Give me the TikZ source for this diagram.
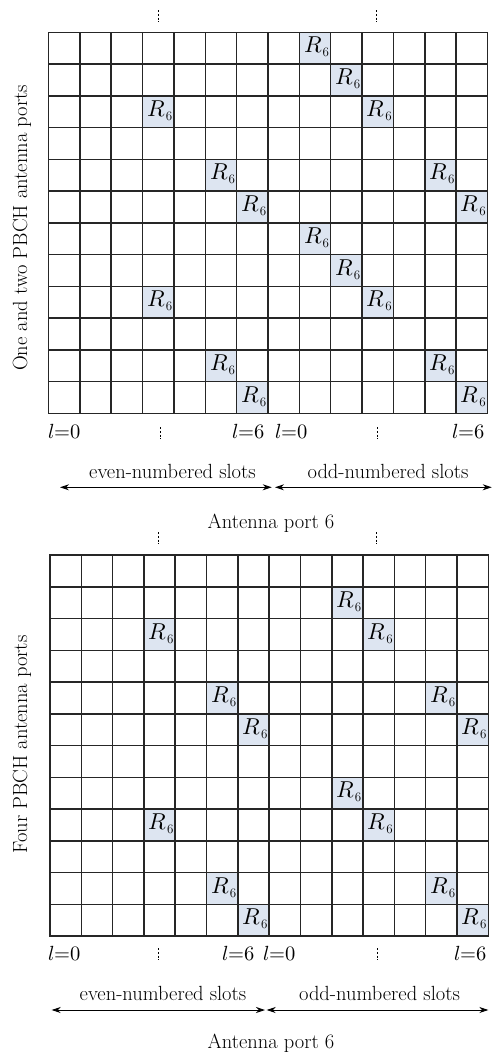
\documentclass[tikz,border=0pt]{standalone}
\usepackage{fontspec}
\usepackage{unicode-math}
\usetikzlibrary{arrows.meta}
\definecolor{rscell}{RGB}{221,229,241}
\tikzset{
  gridline/.style={line width=1.5pt, draw=black!85, line cap=rect},
  rcell/.style={fill=rscell, draw=none, inner sep=0pt},
  rtext/.style={inner sep=0pt, font=\fontsize{23}{24}\selectfont},
  lbl/.style={inner sep=0pt, font=\fontsize{20.5}{22}\selectfont},
  sidelbl/.style={inner sep=0pt, rotate=90, font=\fontsize{20.5}{22}\selectfont},
  span/.style={line width=0.9pt, {Stealth[length=9pt,width=6pt]}-{Stealth[length=9pt,width=6pt]}},
  vdot/.style={line width=1pt, dash pattern=on 2pt off 1.8pt},
}
% R6 symbol with a small, lowered index
\newcommand{\rsix}{$R$\kern0.5pt\lower4pt\hbox{\fontsize{13}{13}\selectfont 6}}
% #1 left, #2 top, #3 cell width, #4 cell height, #5 name prefix, #6 row/col of the R6 cells
\newcommand{\rsgrid}[6]{%
  \foreach \r/\c [count=\k] in {#6} {
    \node[rcell, minimum width=#3pt, minimum height=#4pt] (#5c\k) at ({#1+(\c+0.5)*#3},{#2+(\r+0.5)*#4}) {};
    \node[rtext] (#5t\k) at ([xshift=1.5pt,yshift=1pt]#5c\k.center) {\rsix};
  }
  \foreach \i in {0,...,14} \draw[gridline] ({#1+\i*#3},#2) -- ({#1+\i*#3},{#2+12*#4});
  \foreach \j in {0,...,12} \draw[gridline] (#1,{#2+\j*#4}) -- ({#1+14*#3},{#2+\j*#4});
}
\begin{document}
\begin{tikzpicture}[x=1pt,y=-1pt]
\useasboundingbox (0,0) rectangle (493,1052);

% ---------- upper panel: one and two PBCH antenna ports ----------
\rsgrid{48.5}{32.3}{31.357}{31.75}{a}{0/8,1/9,2/3,2/10,4/5,4/12,5/6,5/13,6/8,7/9,8/3,8/10,10/5,10/12,11/6,11/13}
\draw[vdot] (158.3,10) -- (158.3,22);
\draw[vdot] (376.7,10) -- (376.7,22);
\node[sidelbl] (aside) at (22,228) {One and two PBCH antenna ports};

\node[lbl, anchor=base west] (al0) at (48,438.3) {$l{=}0$};
\node[lbl, anchor=base east] (al6) at (265,438.3) {$l{=}6$};
\node[lbl, anchor=base west] (ar0) at (275,438.3) {$l{=}0$};
\node[lbl, anchor=base east] (ar6) at (485,438.3) {$l{=}6$};
\draw[vdot] (160,427) -- (160,439);
\draw[vdot] (377.7,427) -- (377.7,439);

\node[lbl, anchor=base] (aeven) at (172.5,478) {even-numbered slots};
\node[lbl, anchor=base] (aodd) at (388,478) {odd-numbered slots};
\coordinate (ae1) at (60,487.3);
\coordinate (ae2) at (271.7,487.3);
\coordinate (ao1) at (275,487.3);
\coordinate (ao2) at (491.7,487.3);
\draw[span] (ae1) -- (ae2);
\draw[span] (ao1) -- (ao2);
\node[lbl, anchor=base] (aport) at (271,528) {Antenna port 6};

% ---------- lower panel: four PBCH antenna ports ----------
\rsgrid{50}{555}{31.307}{31.75}{b}{1/9,2/3,2/10,4/5,4/12,5/6,5/13,7/9,8/3,8/10,10/5,10/12,11/6,11/13}
\draw[vdot] (158.3,532) -- (158.3,544);
\draw[vdot] (376.7,532) -- (376.7,544);
\node[sidelbl] (bside) at (22,744.5) {Four PBCH antenna ports};

\node[lbl, anchor=base west] (bl0) at (48.3,960) {$l{=}0$};
\node[lbl, anchor=base east] (bl6) at (255,960) {$l{=}6$};
\node[lbl, anchor=base west] (br0) at (263,960) {$l{=}0$};
\node[lbl, anchor=base east] (br6) at (486.7,960) {$l{=}6$};
\draw[vdot] (158.3,948) -- (158.3,960);
\draw[vdot] (377.7,948) -- (377.7,960);

\node[lbl, anchor=base] (beven) at (163,1000) {even-numbered slots};
\node[lbl, anchor=base] (bodd) at (379.5,1000) {odd-numbered slots};
\coordinate (be1) at (51.7,1010);
\coordinate (be2) at (265,1010);
\coordinate (bo1) at (266.7,1010);
\coordinate (bo2) at (488.3,1010);
\draw[span] (be1) -- (be2);
\draw[span] (bo1) -- (bo2);
\node[lbl, anchor=base] (bport) at (271,1048) {Antenna port 6};
\end{tikzpicture}
\end{document}
